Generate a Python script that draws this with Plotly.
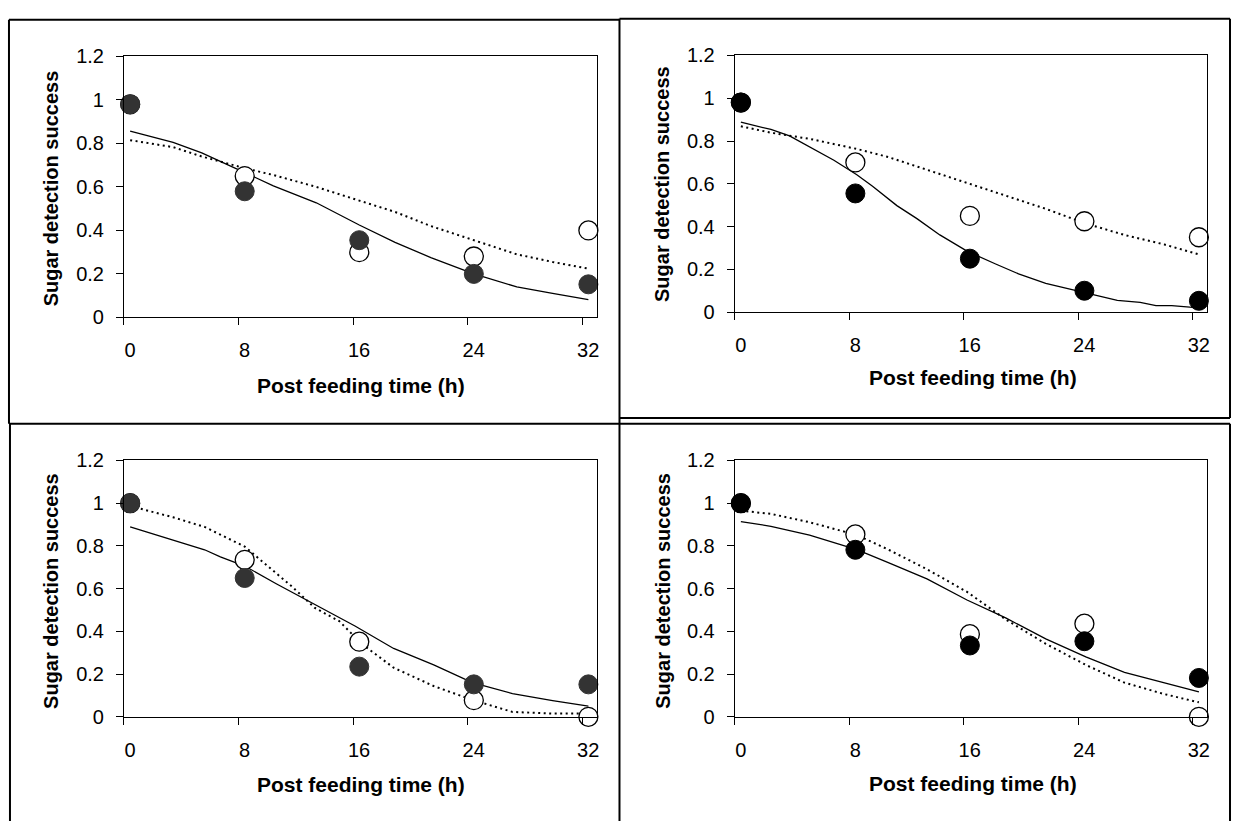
import plotly.graph_objects as go

W, H = 1235, 832

# ---------------- data ----------------
times = [0, 8, 16, 24, 32]
x_tick_vals = [0, 8, 16, 24, 32]
x_tick_text = ["0", "8", "16", "24", "32"]
y_tick_vals = [0, 0.2, 0.4, 0.6, 0.8, 1.0, 1.2]
y_tick_text = ["0", "0.2", "0.4", "0.6", "0.8", "1", "1.2"]

# Panel A (top-left)
a_filled = [0.98, 0.58, 0.355, 0.20, 0.152]
a_open = [0.98, 0.65, 0.30, 0.28, 0.40]
a_fit_x = [0, 3, 5, 8, 10, 13, 16, 18.5, 21, 24, 27, 29.5, 32]
a_fit_solid = [0.857, 0.805, 0.757, 0.665, 0.605, 0.527, 0.425, 0.345, 0.275, 0.20, 0.14, 0.11, 0.082]
a_fit_dotted = [0.815, 0.783, 0.74, 0.686, 0.655, 0.60, 0.537, 0.485, 0.42, 0.355, 0.29, 0.255, 0.224]

# Panel B (top-right)
b_filled = [0.98, 0.555, 0.25, 0.10, 0.053]
b_open = [0.98, 0.70, 0.45, 0.425, 0.35]
b_solid_x = [0, 2.1, 3.4, 5.1, 6.5, 8.1, 9.2, 10.9, 12.3, 13.9, 15.8, 17.8, 19.4, 21.3, 24.1, 26.3, 27.9, 29, 30.1, 32]
b_fit_solid = [0.888, 0.854, 0.824, 0.763, 0.71, 0.642, 0.589, 0.498, 0.437, 0.361, 0.285, 0.225, 0.179, 0.134, 0.088, 0.055, 0.046, 0.03, 0.03, 0.02]
b_dot_x = [0, 2.1, 4.9, 8.1, 10.3, 13, 15.8, 18.6, 21.3, 24.1, 26.8, 29.6, 32]
b_fit_dotted = [0.869, 0.839, 0.809, 0.763, 0.725, 0.665, 0.604, 0.543, 0.483, 0.414, 0.361, 0.316, 0.27]

# Panel C (bottom-left)
c_filled = [1.0, 0.65, 0.235, 0.152, 0.152]
c_open = [1.0, 0.735, 0.352, 0.078, 0.0]
c_solid_x = [0, 3, 5.2, 6.3, 8, 10.2, 12.9, 15.7, 18.4, 21.2, 23.9, 26.7, 29.5, 32]
c_fit_solid = [0.889, 0.828, 0.782, 0.749, 0.706, 0.623, 0.524, 0.425, 0.32, 0.243, 0.16, 0.109, 0.076, 0.05]
c_dot_x = [0, 3, 5.2, 8, 9.6, 11.3, 12.9, 14.6, 16.2, 18.4, 21.2, 23.9, 26.7, 29.5, 32]
c_fit_dotted = [0.987, 0.934, 0.889, 0.797, 0.706, 0.61, 0.51, 0.448, 0.34, 0.23, 0.144, 0.079, 0.023, 0.015, 0.015]

# Panel D (bottom-right)
d_filled = [1.0, 0.782, 0.334, 0.354, 0.182]
d_open = [1.0, 0.854, 0.387, 0.436, 0.0]
d_fit_x = [0, 2.1, 4.8, 8.1, 10.3, 13, 15.8, 18.5, 21.3, 24.1, 26.8, 29.6, 32]
d_fit_solid = [0.914, 0.892, 0.851, 0.783, 0.722, 0.646, 0.547, 0.463, 0.365, 0.281, 0.208, 0.16, 0.117]
d_fit_dotted = [0.965, 0.95, 0.911, 0.851, 0.783, 0.691, 0.585, 0.456, 0.342, 0.243, 0.16, 0.106, 0.068]

x_title = "Post feeding time (h)"
y_title = "Sugar detection success"

# ---------------- style ----------------
FONT = "Liberation Sans, Arial, Helvetica, sans-serif"
X_SHIFT = 0.43  # points sit slightly right of the tick marks

panels = [
    dict(name="A", filled=a_filled, open=a_open, sx=a_fit_x, sy=a_fit_solid, dx=a_fit_x, dy=a_fit_dotted,
         fill="#333333", px=(124.3, 598), py=(46.7, 314.7), ytitle=(51.3, 182), xtitle=(362, 385)),
    dict(name="B", filled=b_filled, open=b_open, sx=b_solid_x, sy=b_fit_solid, dx=b_dot_x, dy=b_fit_dotted,
         fill="#000000", px=(736.5, 1210), py=(45.7, 309.3), ytitle=(664.3, 178), xtitle=(975, 376.7)),
    dict(name="C", filled=c_filled, open=c_open, sx=c_solid_x, sy=c_fit_solid, dx=c_dot_x, dy=c_fit_dotted,
         fill="#333333", px=(124.3, 598), py=(461.7, 725), ytitle=(51.3, 595.5), xtitle=(362, 795)),
    dict(name="D", filled=d_filled, open=d_open, sx=d_fit_x, sy=d_fit_solid, dx=d_fit_x, dy=d_fit_dotted,
         fill="#000000", px=(736.5, 1210), py=(461.7, 725), ytitle=(664.3, 595.8), xtitle=(975, 793.3)),
]

fig = go.Figure()
annotations = []
layout_axes = {}

for i, p in enumerate(panels, start=1):
    xa = "x" if i == 1 else f"x{i}"
    ya = "y" if i == 1 else f"y{i}"
    sh = lambda xs: [v + X_SHIFT for v in xs]
    fig.add_trace(go.Scatter(x=sh(p["dx"]), y=p["dy"], mode="lines", xaxis=xa, yaxis=ya,
                             line=dict(color="black", width=2, dash="2px,3.5px"), showlegend=False))
    fig.add_trace(go.Scatter(x=sh(p["sx"]), y=p["sy"], mode="lines", xaxis=xa, yaxis=ya,
                             line=dict(color="black", width=1.3), showlegend=False))
    fig.add_trace(go.Scatter(x=sh(times), y=p["open"], mode="markers", xaxis=xa, yaxis=ya, cliponaxis=False,
                             marker=dict(size=19, color="white", line=dict(color="black", width=1.3)),
                             showlegend=False))
    fig.add_trace(go.Scatter(x=sh(times), y=p["filled"], mode="markers", xaxis=xa, yaxis=ya, cliponaxis=False,
                             marker=dict(size=19, color=p["fill"], line=dict(color=p["fill"], width=1)),
                             showlegend=False))

    xkey = "xaxis" if i == 1 else f"xaxis{i}"
    ykey = "yaxis" if i == 1 else f"yaxis{i}"
    layout_axes[xkey] = dict(
        domain=[p["px"][0] / W, p["px"][1] / W], anchor=ya, range=[0, 33],
        tickmode="array", tickvals=x_tick_vals, ticktext=x_tick_text,
        ticks="outside", ticklen=7, tickwidth=1, tickcolor="black",
        showline=True, linecolor="black", linewidth=1, mirror=True,
        showgrid=False, zeroline=False, ticklabelshift=6, ticklabelstandoff=8,
        tickfont=dict(family=FONT, size=20, color="black"), fixedrange=True,
    )
    layout_axes[ykey] = dict(
        domain=[1 - p["py"][1] / H, 1 - p["py"][0] / H], anchor=xa, range=[0, 1.2],
        tickmode="array", tickvals=y_tick_vals, ticktext=y_tick_text,
        ticks="outside", ticklen=7, tickwidth=1, tickcolor="black",
        showline=True, linecolor="black", linewidth=1, mirror=True,
        showgrid=False, zeroline=False, ticklabelstandoff=8,
        tickfont=dict(family=FONT, size=20, color="black"), fixedrange=True,
    )
    annotations.append(dict(text=f"<b>{y_title}</b>", xref="paper", yref="paper",
                            x=p["ytitle"][0] / W, y=1 - p["ytitle"][1] / H, textangle=-90,
                            xanchor="center", yanchor="middle", showarrow=False,
                            font=dict(family=FONT, size=20, color="black")))
    annotations.append(dict(text=f"<b>{x_title}</b>", xref="paper", yref="paper",
                            x=p["xtitle"][0] / W, y=1 - p["xtitle"][1] / H,
                            xanchor="center", yanchor="middle", showarrow=False,
                            font=dict(family=FONT, size=21, color="black")))

def pline(x0, y0, x1, y1):
    return dict(type="line", xref="paper", yref="paper", x0=x0 / W, y0=1 - y0 / H, x1=x1 / W, y1=1 - y1 / H,
                line=dict(color="black", width=2))

shapes = [
    # top-left box
    pline(9, 9, 621, 9), pline(9, 9, 9, 424),
    # top-right box
    pline(621, 8, 1233, 8), pline(1233, 8, 1233, 418), pline(621, 418, 1233, 418),
    # shared middle vertical
    pline(621, 8, 621, 832),
    # bottom row
    pline(9, 424, 1233, 424), pline(10, 424, 10, 832), pline(1233, 424, 1233, 832),
]

fig.update_layout(
    width=W, height=H, margin=dict(l=0, r=0, t=0, b=0),
    paper_bgcolor="white", plot_bgcolor="white",
    annotations=annotations, shapes=shapes, showlegend=False,
    **layout_axes,
)

fig.write_html("out.html", config={"displayModeBar": False})
